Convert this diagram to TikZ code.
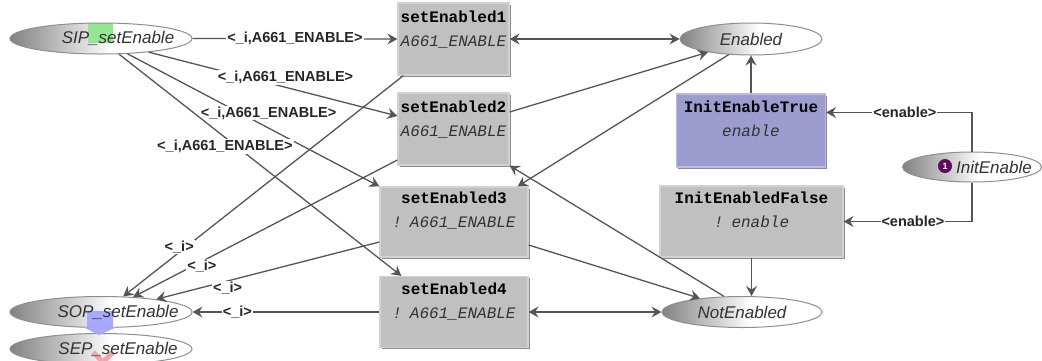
\documentclass[tikz,border=0pt]{standalone}
\usepackage{fontspec}
\setmainfont{Liberation Sans}
\newfontfamily\trmono{Liberation Mono}
\usetikzlibrary{arrows.meta, shapes.geometric, shadows, calc}
\definecolor{edgeGrey}{HTML}{555555}
\definecolor{placeGrey}{HTML}{828282}
\definecolor{placeLine}{HTML}{8E8E8E}
\definecolor{placeText}{HTML}{333333}
\definecolor{transFill}{HTML}{C0C0C0}
\definecolor{transLine}{HTML}{D2D2D2}
\definecolor{initFill}{HTML}{9C9CCE}
\definecolor{initLine}{HTML}{B9B9E4}
\definecolor{shadowGrey}{HTML}{8C8C8C}
\definecolor{tokPurple}{HTML}{5E0A5E}
\definecolor{sipGreen}{HTML}{94E894}
\definecolor{sopBlue}{HTML}{A8A8FC}
\definecolor{sepRed}{HTML}{F2A6A6}
\pgfdeclarehorizontalshading{placeshade}{100bp}{color(0bp)=(placeGrey); color(25bp)=(placeGrey);
  color(53bp)=(white); color(100bp)=(white)}
\tikzset{
  pnArc/.style    = {-{Stealth[length=10pt, width=11pt, inset=3.5pt]}, line width=1.3pt, edgeGrey},
  readArc/.style  = {{Stealth[length=10pt, width=11pt, inset=3.5pt]}-{Stealth[length=10pt, width=11pt, inset=3.5pt]},
                     line width=1.3pt, edgeGrey},
  alab/.style     = {font=\bfseries\fontsize{14.5}{16}\selectfont, text=black!85, fill=white, inner sep=1pt},
  place/.style    = {ellipse, draw=placeLine, line width=1pt, shading=placeshade, inner sep=0pt,
                     text=placeText, font=\itshape\fontsize{17}{20}\selectfont},
  trans/.style    = {rectangle, fill=transFill, draw=transLine, line width=1.2pt, inner sep=0pt, align=center,
                     font=\trmono\fontsize{16}{24}\selectfont,
                     drop shadow={shadow xshift=1.6pt, shadow yshift=-1.6pt, fill=shadowGrey, opacity=1}},
  trsize/.style n args = {3}{text width=#1pt, text height=#2pt, text depth=#3pt},
  pntoken/.style  = {circle, fill=tokPurple, text=white, inner sep=0pt, minimum size=14pt,
                     font=\bfseries\fontsize{9}{9}\selectfont},
}

\begin{document}
\begin{tikzpicture}[x=1pt,y=-1pt]
  \useasboundingbox (0,0) rectangle (1042,360);

  \node[place, minimum width=182pt, minimum height=31pt,
        path picture={\fill[sipGreen] ([xshift=-13pt]path picture bounding box.north)
                      rectangle ([xshift=12pt,yshift=-20pt]path picture bounding box.north);}]
       (sip) at (101,38.5) {\makebox[0pt]{\hspace*{34pt}SIP\_setEnable}};
  \node[place, minimum width=182pt, minimum height=31pt,
        path picture={\fill[sopBlue, shift={(path picture bounding box.center)}]
                      (-14pt,6pt) -- (12pt,6pt) -- (12pt,-14pt) -- (16pt,-14pt) -- (-2pt,-23pt)
                      -- (-18pt,-14pt) -- (-14pt,-14pt) -- cycle;}]
       (sop) at (101,312) {\makebox[0pt]{\hspace*{34pt}SOP\_setEnable}};
  \node[place, minimum width=182pt, minimum height=31pt,
        path picture={\draw[sepRed, line width=5pt, shift={(path picture bounding box.center)}]
                      (-8pt,2pt) -- (12pt,-18pt) (12pt,2pt) -- (-8pt,-18pt);}]
       (sep) at (101,349) {\makebox[0pt]{\hspace*{34pt}SEP\_setEnable}};
  \fill[sopBlue] ([xshift=-18pt,yshift=1pt]sop.south) -- ([xshift=16pt,yshift=1pt]sop.south)
       -- ([xshift=-2pt,yshift=-7pt]sop.south) -- cycle;
  \node[place, minimum width=142pt, minimum height=32pt] (en) at (751,39) {\makebox[0pt]{Enabled}};
  \node[place, minimum width=160pt, minimum height=31pt] (nen) at (742,312) {\makebox[0pt]{NotEnabled}};
  \node[place, minimum width=139pt, minimum height=30pt] (init) at (972,167)
       {\makebox[0pt]{\hspace*{44pt}InitEnable}};
  \node[pntoken] (tok) at (945,166) {1};

  \foreach \n/\x/\y/\w/\h/\d/\g in {1/453.5/39/111/19/53/{A661\_ENABLE},
                                     2/453.5/129/111/19/53/{A661\_ENABLE},
                                     3/454/222/148/16/54/{! A661\_ENABLE},
                                     4/454/312/148/18/53/{! A661\_ENABLE}}
    \node[trans, trsize={\w}{\h}{\d}] (se\n) at (\x,\y)
         {\textbf{setEnabled\n}\\{\itshape\color{placeText}\g}};
  \node[trans, trsize={149}{18}{55}, fill=initFill, draw=initLine] (iet) at (751,130.5)
       {\textbf{InitEnableTrue}\\{\itshape\color{placeText}enable}};
  \node[trans, trsize={183}{17}{54}] (ief) at (751.5,221.5)
       {\textbf{InitEnabledFalse}\\{\itshape\color{placeText}! enable}};

  \draw[pnArc] (sip.east) -- node[alab] {<\_i,A661\_ENABLE>} (se1.west);
  \draw[pnArc] (sip.-16) -- node[alab, pos=0.55, yshift=10pt] {<\_i,A661\_ENABLE>} ([yshift=13pt]se2.west);
  \draw[pnArc] (sip.-30) -- node[alab, pos=0.56, yshift=15pt] {<\_i,A661\_ENABLE>} (se3.north west);
  \draw[pnArc] (sip.-41) -- node[alab, pos=0.375, yshift=-9pt] {<\_i,A661\_ENABLE>} ([xshift=22pt]se4.north west);

  \draw[pnArc] ([xshift=6pt]se1.south west) -- node[alab, pos=0.8, yshift=5pt] {<\_i>} (sop.35);
  \draw[pnArc] ([yshift=-31pt]se2.west) -- node[alab, pos=0.74, yshift=-5pt] {<\_i>} (sop.25);
  \draw[pnArc] ([yshift=-20pt]se3.west) -- node[alab, pos=0.68, yshift=-7pt] {<\_i>} (sop.13);
  \draw[pnArc] (se4.west) -- node[alab, pos=0.76] {<\_i>} (sop.east);

  \draw[readArc] (se1.east) -- (en.west);
  \draw[pnArc] ([yshift=17pt]se2.east) -- (en.197);
  \draw[pnArc] (en.215) -- ([xshift=-11pt]se3.north east);
  \draw[pnArc] (nen.139) -- (se2.south east);
  \draw[pnArc] ([yshift=-23pt]se3.east) -- (nen.162);
  \draw[readArc] (se4.east) -- (nen.west);

  \draw[pnArc] (iet.north) -- (en.south);
  \draw[pnArc] (ief.south) -- (ief.south |- nen.north);
  \draw[pnArc] (init.north) |- node[alab, pos=0.73] {<enable>} ([yshift=18pt]iet.east);
  \draw[pnArc] (init.south) |- node[alab, pos=0.73] {<enable>} (ief.east);
\end{tikzpicture}
\end{document}
